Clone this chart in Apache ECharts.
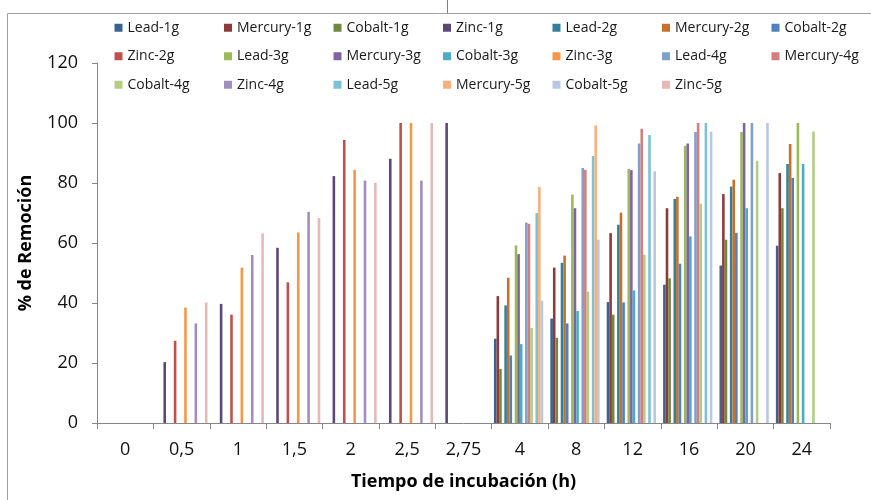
<!DOCTYPE html>
<html>
<head>
<meta charset="utf-8">
<script src="https://cdn.jsdelivr.net/npm/echarts@6/dist/echarts.min.js"></script>
<style>
html,body{margin:0;padding:0;background:#fff;}
#chart{width:871px;height:500px;}
</style>
</head>
<body>
<div id="chart"></div>
<script>
const categories = ['0','0,5','1','1,5','2','2,5','2,75','4','8','12','16','20','24'];
const seriesNames = ['Lead-1g','Mercury-1g','Cobalt-1g','Zinc-1g','Lead-2g','Mercury-2g','Cobalt-2g','Zinc-2g','Lead-3g','Mercury-3g','Cobalt-3g','Zinc-3g','Lead-4g','Mercury-4g','Cobalt-4g','Zinc-4g','Lead-5g','Mercury-5g','Cobalt-5g','Zinc-5g'];
const N = null;
const lead1g    = [N,N,N,N,N,N,N, 28.1, 34.8, 40.3, 46.1, 52.5, 59.1];
const mercury1g = [N,N,N,N,N,N,N, 42.3, 51.8, 63.3, 71.6, 76.3, 83.3];
const cobalt1g  = [N,N,N,N,N,N,N, 18.0, 28.4, 36.1, 48.2, 61.1, 71.6];
const zinc1g    = [N, 20.3, 39.7, 58.4, 82.3, 88.1, 100, N,N,N,N,N,N];
const lead2g    = [N,N,N,N,N,N,N, 39.2, 53.4, 66.1, 74.7, 78.8, 86.3];
const mercury2g = [N,N,N,N,N,N,N, 48.4, 55.8, 70.1, 75.4, 81.1, 93.0];
const cobalt2g  = [N,N,N,N,N,N,N, 22.5, 33.2, 40.2, 53.1, 63.4, 81.7];
const zinc2g    = [N, 27.4, 36.1, 46.9, 94.3, 100, N, N,N,N,N,N,N];
const lead3g    = [N,N,N,N,N,N,N, 59.2, 76.1, 84.7, 92.4, 97.0, 100];
const mercury3g = [N,N,N,N,N,N,N, 56.3, 71.6, 84.3, 93.2, 100, N];
const cobalt3g  = [N,N,N,N,N,N,N, 26.3, 37.3, 44.2, 62.2, 71.6, 86.3];
const zinc3g    = [N, 38.5, 51.8, 63.5, 84.4, 100, N, N,N,N,N,N,N];
const lead4g    = [N,N,N,N,N,N,N, 66.8, 85.0, 93.2, 97.0, 100, N];
const mercury4g = [N,N,N,N,N,N,N, 66.4, 84.4, 98.1, 100, N, N];
const cobalt4g  = [N,N,N,N,N,N,N, 31.7, 43.8, 56.1, 73.1, 87.4, 97.2];
const zinc4g    = [N, 33.2, 56.0, 70.4, 80.8, 80.8, N, N,N,N,N,N,N];
const lead5g    = [N,N,N,N,N,N,N, 70.0, 89.0, 96.0, 100, N, N];
const mercury5g = [N,N,N,N,N,N,N, 78.7, 99.2, N, N, N, N];
const cobalt5g  = [N,N,N,N,N,N,N, 40.8, 61.1, 83.9, 97.1, 100, N];
const zinc5g    = [N, 40.2, 63.2, 68.3, 80.1, 100, N, N,N,N,N,N,N];
const yTicks = [0, 20, 40, 60, 80, 100, 120];

const seriesValues = [lead1g, mercury1g, cobalt1g, zinc1g, lead2g, mercury2g, cobalt2g, zinc2g,
  lead3g, mercury3g, cobalt3g, zinc3g, lead4g, mercury4g, cobalt4g, zinc4g, lead5g, mercury5g, cobalt5g, zinc5g];
const colors = ['#3a6293','#8e3a38','#71893f','#5c4878','#33809a','#c6702c','#4f81bd','#c0504d',
  '#9bbb59','#8064a2','#4bacc6','#f79646','#7f9fcd','#d27f7d','#b4cc85','#a08fbd','#7dc1d6','#f9b07c','#b8c8e2','#e6b9b8'];

const FONT = 'Open Sans';
const chart = echarts.init(document.getElementById('chart'), null, {renderer:'canvas'});
chart.setOption({
  animation: false,
  backgroundColor: '#ffffff',
  textStyle: {fontFamily: FONT},
  legend: {
    left: 114.5, top: 18.5, width: 760, padding: 0,
    itemWidth: 8, itemHeight: 8, itemGap: 10,
    icon: 'rect',
    textStyle: {fontFamily: FONT, fontSize: 14, color: '#1a1a1a', width: 86.5, lineHeight: 18.5},
    data: seriesNames
  },
  grid: {left: 97, right: 41, top: 63, bottom: 77, containLabel: false},
  xAxis: {
    type: 'category',
    data: categories,
    name: 'Tiempo de incubación (h)',
    nameLocation: 'middle',
    nameGap: 50,
    nameTextStyle: {fontFamily: FONT, fontSize: 18, fontWeight: 'bold', color: '#000'},
    axisLine: {lineStyle: {color: '#868686', width: 1}},
    axisTick: {show: true, length: 6, lineStyle: {color: '#868686'}},
    axisLabel: {interval: 0, fontSize: 18, color: '#111', margin: 18, fontFamily: FONT}
  },
  yAxis: {
    type: 'value',
    min: yTicks[0], max: yTicks[yTicks.length-1], interval: 20,
    name: '% de Remoción',
    nameLocation: 'middle',
    nameGap: 62,
    nameTextStyle: {fontFamily: FONT, fontSize: 18, fontWeight: 'bold', color: '#000'},
    axisLine: {show: true, lineStyle: {color: '#868686', width: 1}},
    axisTick: {show: true, length: 5, lineStyle: {color: '#868686'}},
    splitLine: {show: false},
    axisLabel: {fontSize: 18, color: '#111', margin: 19, fontFamily: FONT}
  },
  graphic: [
    {type: 'polyline', shape: {points: [[7.5, 510], [7.5, 13.5], [880, 13.5]]}, style: {stroke: '#a0a0a0', lineWidth: 1, fill: null}, silent: true},
    {type: 'line', shape: {x1: 447.5, y1: 0, x2: 447.5, y2: 13}, style: {stroke: '#808080', lineWidth: 1}, silent: true}
  ],
  series: seriesNames.map((n, i) => ({
    name: n,
    type: 'bar',
    data: seriesValues[i],
    itemStyle: {color: colors[i]},
    barGap: '0%',
    barCategoryGap: '8%'
  }))
});
</script>
</body>
</html>
